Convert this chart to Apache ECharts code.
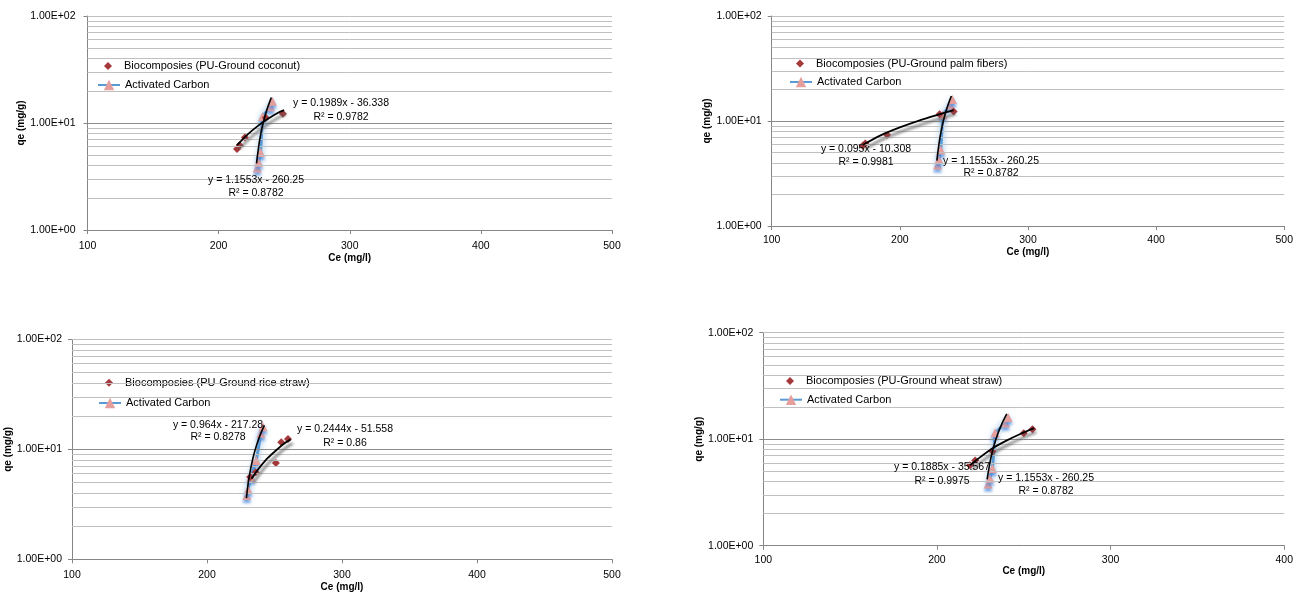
<!DOCTYPE html>
<html><head><meta charset="utf-8">
<script src="https://cdn.jsdelivr.net/npm/echarts@6/dist/echarts.min.js"></script>
<style>html,body{margin:0;padding:0;background:#fff}#c{width:1296px;height:594px}</style>
</head><body><div id="c"></div>
<script>
// ---- data ----
const bioNames = ['Biocomposies (PU-Ground coconut)', 'Biocomposies (PU-Ground palm fibers)',
                  'Biocomposies (PU-Ground rice straw)', 'Biocomposies (PU-Ground wheat straw)'];
const acName = 'Activated Carbon';
const xTitle = 'Ce (mg/l)';
const yTitle = 'qe (mg/g)';
const xMins = [100, 100, 100, 100];
const xMaxes = [500, 500, 500, 400];
const xStep = 100;
const yTickLabels = ['1.00E+00', '1.00E+01', '1.00E+02'];
const gridLevels = [2, 3, 4, 5, 6, 7, 8, 9, 10, 20, 30, 40, 50, 60, 70, 80, 90, 100];

// Biocomposite measured points
const bioCoconutX = [214, 216, 220, 236, 249];
const bioCoconutY = [5.7, 6.2, 7.3, 11.2, 12.2];
const bioPalmX = [171, 173, 190, 231, 242];
const bioPalmY = [5.8, 6.1, 7.4, 11.6, 12.3];
const bioRiceX = [232, 236, 251, 255, 260];
const bioRiceY = [5.6, 6.2, 7.5, 11.6, 12.4];
const bioWheatX = [219, 222, 232, 250, 255];
const bioWheatY = [5.7, 6.3, 7.7, 11.4, 12.4];

// Activated carbon measured points
const acX = [229.5, 230.5, 232, 233.5, 239.5, 241];
const acY = [3.8, 4.3, 5.3, 11.5, 14.2, 16.0];
const acRiceX = [229.5, 230.5, 232.5, 236.5, 240, 241.5];
const acRiceY = [3.8, 4.3, 5.6, 7.9, 14.0, 16.0];

// Trend lines
const trBioCoconutX = [214, 222, 230, 238, 246, 250];
const trBioCoconutY = [6.2, 7.8, 9.4, 11.0, 12.6, 13.2];
const trBioPalmX = [171, 185, 200, 215, 230, 242];
const trBioPalmY = [5.9, 7.3, 8.7, 10.1, 11.5, 12.7];
const trBioRiceX = [233, 238, 244, 250, 256, 262];
const trBioRiceY = [5.4, 6.6, 8.1, 9.5, 11.0, 12.3];
const trBioWheatX = [219, 226, 233, 240, 248, 256];
const trBioWheatY = [5.7, 7.0, 8.4, 9.7, 11.2, 12.7];
const trAcX = [228.9, 231, 233, 235, 237.5, 240.2];
const trAcY = [4.2, 6.6, 8.9, 11.2, 14.1, 17.3];
const trAcRiceX = [229.2, 231, 234, 237, 240, 242.5];
const trAcRiceY = [3.6, 5.4, 8.3, 11.2, 14.1, 16.5];

const eqBio = [['y = 0.1989x - 36.338', 'R² = 0.9782'], ['y = 0.095x - 10.308', 'R² = 0.9981'],
               ['y = 0.2444x - 51.558', 'R² = 0.86'], ['y = 0.1885x - 35.567', 'R² = 0.9975']];
const eqAc = [['y = 1.1553x - 260.25', 'R² = 0.8782'], ['y = 1.1553x - 260.25', 'R² = 0.8782'],
              ['y = 0.964x - 217.28', 'R² = 0.8278'], ['y = 1.1553x - 260.25', 'R² = 0.8782']];

// ---- layout ----
const FONT = 'Liberation Sans';
const grids = [
  {left: 87.5, top: 16, width: 524.5, height: 214},
  {left: 771.7, top: 16, width: 516.3, height: 210},
  {left: 72, top: 339.3, width: 540, height: 220},
  {left: 763.3, top: 332.7, width: 524.7, height: 213}
];
// legend row centres and left edges
const legendLeft = [97, 789, 98, 779];
const legendRow1 = [66, 63.5, 382.7, 381];
const legendRow2 = [86, 83, 404, 400.7];
const yNameGap = [58, 52, 56, 54];
const xNameGap = [21, 20, 23, 21];
const xLabelMargin = [11, 9, 10, 9];
const yLabelMargin = [12, 10, 10, 10];
const eqBioPos = [[341, 103, 117], [866, 149, 161.7], [345, 429, 442.7], [942, 467.5, 480.7]];
const eqAcPos = [[256, 180, 193], [991, 160.7, 172.7], [218, 425, 437.5], [1046, 477.7, 490.7]];
const DIAMOND_ICON = 'path://M0,-1L1,0L0,1L-1,0Z';

const zip = (xs, ys) => xs.map((x, i) => [x, ys[i]]);
const bioSets = [[bioCoconutX, bioCoconutY], [bioPalmX, bioPalmY], [bioRiceX, bioRiceY], [bioWheatX, bioWheatY]];
const acSets = [[acX, acY], [acX, acY], [acRiceX, acRiceY], [acX, acY]];
const trBioSets = [[trBioCoconutX, trBioCoconutY], [trBioPalmX, trBioPalmY], [trBioRiceX, trBioRiceY], [trBioWheatX, trBioWheatY]];
const trAcSets = [[trAcX, trAcY], [trAcX, trAcY], [trAcRiceX, trAcRiceY], [trAcX, trAcY]];

const xAxes = [], yAxes = [], series = [], legends = [], graphics = [];
for (let i = 0; i < 4; i++) {
  xAxes.push({
    gridIndex: i, type: 'value', min: xMins[i], max: xMaxes[i], interval: xStep,
    axisLine: {onZero: false, lineStyle: {color: '#868686', width: 1}},
    axisTick: {show: true, length: 4, lineStyle: {color: '#868686'}},
    splitLine: {show: false},
    axisLabel: {fontSize: 10.5, color: '#000', margin: xLabelMargin[i], fontFamily: FONT},
    name: xTitle, nameLocation: 'middle', nameGap: xNameGap[i],
    nameTextStyle: {fontWeight: 'bold', fontSize: 10, color: '#000', fontFamily: FONT}
  });
  yAxes.push({
    gridIndex: i, type: 'log', logBase: 10, min: 1, max: 100,
    axisLine: {show: true, onZero: false, lineStyle: {color: '#868686', width: 1}},
    axisTick: {show: true, length: 4, lineStyle: {color: '#868686'}},
    splitLine: {show: false},
    axisLabel: {fontSize: 10.5, color: '#000', margin: yLabelMargin[i], fontFamily: FONT,
      formatter: v => yTickLabels[Math.round(Math.log10(v))] || ''},
    name: yTitle, nameLocation: 'middle', nameRotate: 90, nameGap: yNameGap[i],
    nameTextStyle: {fontWeight: 'bold', fontSize: 10, color: '#000', fontFamily: FONT}
  });
  const bio = zip(bioSets[i][0], bioSets[i][1]);
  // gridlines
  series.push({
    type: 'line', xAxisIndex: i, yAxisIndex: i, data: bio, showSymbol: false, silent: true,
    lineStyle: {opacity: 0}, z: 1,
    markLine: {silent: true, symbol: ['none', 'none'], label: {show: false},
      data: gridLevels.map(v => ({yAxis: v, lineStyle: {color: v === 10 ? '#8c8c8c' : '#c0c0c0', width: 1, type: 'solid'}}))}
  });
  // activated carbon
  series.push({
    name: acName, type: 'line', xAxisIndex: i, yAxisIndex: i, data: zip(acSets[i][0], acSets[i][1]),
    symbol: 'triangle', symbolSize: 9, z: 3,
    itemStyle: {color: '#e49e9c', opacity: 1, shadowColor: 'rgba(80,140,220,0.8)', shadowBlur: 3, shadowOffsetY: 3},
    lineStyle: {color: '#5b9bd5', width: 3, shadowColor: 'rgba(91,155,213,0.8)', shadowBlur: 6}
  });
  // biocomposite
  series.push({
    name: bioNames[i], type: 'scatter', xAxisIndex: i, yAxisIndex: i, data: bio,
    symbol: 'diamond', symbolSize: 8, z: 4, itemStyle: {color: '#a4383a', opacity: 1}
  });
  // trend lines
  series.push({
    type: 'line', xAxisIndex: i, yAxisIndex: i, data: zip(trBioSets[i][0], trBioSets[i][1]),
    showSymbol: false, smooth: 0.3, silent: true, z: 5,
    lineStyle: {color: '#000', width: 1.8, shadowColor: 'rgba(90,90,90,1)', shadowBlur: 3, shadowOffsetX: 2, shadowOffsetY: 4}
  });
  series.push({
    type: 'line', xAxisIndex: i, yAxisIndex: i, data: zip(trAcSets[i][0], trAcSets[i][1]),
    showSymbol: false, smooth: 0.3, silent: true, z: 5,
    lineStyle: {color: '#000', width: 1.6}
  });
  legends.push({
    data: [{name: bioNames[i], icon: DIAMOND_ICON}], orient: 'vertical',
    left: legendLeft[i] + 7, top: legendRow1[i] - 5.5, padding: 0,
    itemWidth: 22, itemHeight: 8, selectedMode: false,
    textStyle: {fontSize: 11, color: '#000', fontFamily: FONT}
  });
  legends.push({
    data: [acName], orient: 'vertical',
    left: legendLeft[i], top: legendRow2[i] - 6.5, padding: 0,
    itemWidth: 22, itemHeight: 13, selectedMode: false,
    textStyle: {fontSize: 11, color: '#000', fontFamily: FONT}
  });
  const t = (txt, x, y) => ({type: 'text', x: x, y: y, z: 100, silent: true,
    style: {text: txt, align: 'center', verticalAlign: 'middle', fontSize: 10.5, fontFamily: FONT, fill: '#000'}});
  graphics.push(t(eqBio[i][0], eqBioPos[i][0], eqBioPos[i][1]), t(eqBio[i][1], eqBioPos[i][0], eqBioPos[i][2]));
  graphics.push(t(eqAc[i][0], eqAcPos[i][0], eqAcPos[i][1]), t(eqAc[i][1], eqAcPos[i][0], eqAcPos[i][2]));
}

const chart = echarts.init(document.getElementById('c'), null, {renderer: 'canvas'});
chart.setOption({
  animation: false,
  backgroundColor: '#fff',
  textStyle: {fontFamily: FONT},
  grid: grids,
  xAxis: xAxes,
  yAxis: yAxes,
  legend: legends,
  series: series,
  graphic: graphics
});
</script></body></html>
